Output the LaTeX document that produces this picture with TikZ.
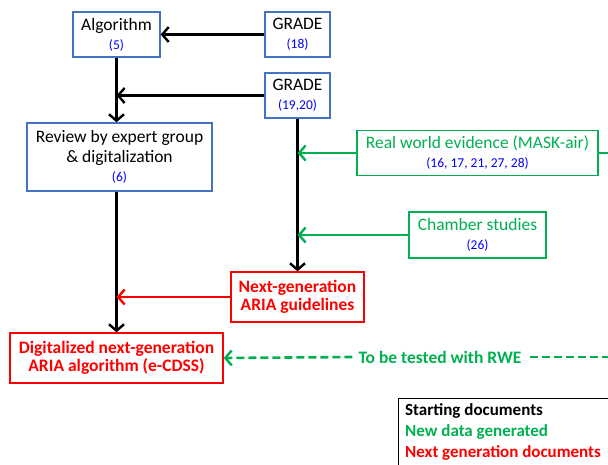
\documentclass[tikz,border=0pt]{standalone}
\usepackage{fontspec}
\setmainfont{Carlito}
\usetikzlibrary{arrows.meta}
\definecolor{bblue}{RGB}{68,114,196}
\definecolor{ggreen}{RGB}{0,176,80}
\definecolor{rred}{RGB}{255,0,0}
\definecolor{refblue}{RGB}{0,0,255}
\newcommand{\rf}[1]{{\fontsize{13.5}{15}\selectfont\color{refblue}#1}}
\tikzset{
  x=1pt,y=-1pt,
  box/.style={draw, line width=1.3pt, rectangle, align=center, inner sep=0pt, font=\fontsize{17.5}{20}\selectfont},
  bluebox/.style={box, draw=bblue},
  greenbox/.style={box, draw=ggreen, text=ggreen},
  redbox/.style={box, draw=rred, text=rred, font=\fontsize{17.5}{18.5}\selectfont\bfseries},
  tip/.style={-{Straight Barb[length=6.5pt,width=15pt,line width=2.4pt]}},
  karr/.style={tip, line width=3pt, black},
  garr/.style={tip, line width=2.6pt, ggreen},
  rarr/.style={tip, line width=2.6pt, rred},
}
\begin{document}
\begin{tikzpicture}
\useasboundingbox (0,0) rectangle (608,464);
\clip (0,0) rectangle (608,464);
% nodes
\node[bluebox, minimum width=87pt, minimum height=45pt] (alg) at (116.5,34.5) {Algorithm\\[-1pt]\rf{(5)}};
\node[bluebox, minimum width=65pt, minimum height=45pt] (g18) at (297.5,34.5) {GRADE\\[-1pt]\rf{(18)}};
\node[bluebox, minimum width=65pt, minimum height=45pt] (g19) at (297.5,95.5) {GRADE\\[-1pt]\rf{(19,20)}};
\node[bluebox, minimum width=185pt, minimum height=68pt] (rev) at (119.5,157) {Review by expert group\\\& digitalization\\[-1pt]\rf{(6)}};
\node[greenbox, minimum width=241pt, minimum height=45pt] (rwe) at (477.5,153) {Real world evidence (MASK-air)\\[-1pt]\rf{(16, 17, 21, 27, 28)}};
\node[greenbox, minimum width=137pt, minimum height=46pt] (cha) at (477.5,235) {Chamber studies\\[-1pt]\rf{(26)}};
\node[redbox, minimum width=133pt, minimum height=50pt] (nxt) at (297.5,297) {Next-generation\\ARIA guidelines};
\node[redbox, minimum width=213pt, minimum height=50pt] (dig) at (116.5,358) {Digitalized next-generation\\ARIA algorithm (e-CDSS)};
\node[font=\fontsize{17.5}{20}\selectfont\bfseries, text=ggreen, inner sep=0pt] (rwet) at (440,357) {To be tested with RWE};
\draw[line width=1pt] (620,398) -- (398,398) -- (398,480);
\node[anchor=north west, align=left, inner sep=0pt,
  font=\fontsize{17}{21}\selectfont\bfseries] (leg) at (405,403.5)
  {Starting documents\\{\color{ggreen}New data generated}\\{\color{rred}Next generation documents}};
% coordinates
\coordinate (j1) at (alg.south |- g19.west);
\coordinate (j2) at (g19.south |- rwe.west);
\coordinate (j3) at (g19.south |- cha.west);
\coordinate (j4) at (rev.south -| dig.north);
\coordinate (j5) at (j4 |- nxt.west);
\coordinate (off1) at (620,153);
\coordinate (off2) at (620,357);
% connectors
\draw[karr] (g18.west) -- (alg.east);
\draw[line width=3pt] (alg.south) -- (j1);
\draw[karr] (j1) -- (j1 |- rev.north);
\draw[karr] (g19.west) -- (j1);
\draw[karr] (g19.south) -- (g19.south |- nxt.north);
\draw[garr] (rwe.west) -- (j2);
\draw[line width=2.6pt, ggreen] (rwe.east) -- (off1);
\draw[garr] (cha.west) -- (j3);
\draw[karr] (j4) -- (dig.north);
\draw[rarr] (nxt.west) -- (j5);
\draw[garr, dash pattern=on 8pt off 4pt] ([xshift=-6pt]rwet.west) -- (dig.east);
\draw[line width=2.6pt, ggreen, dash pattern=on 8pt off 4pt] ([xshift=8pt]rwet.east) -- (off2);
\end{tikzpicture}
\end{document}
